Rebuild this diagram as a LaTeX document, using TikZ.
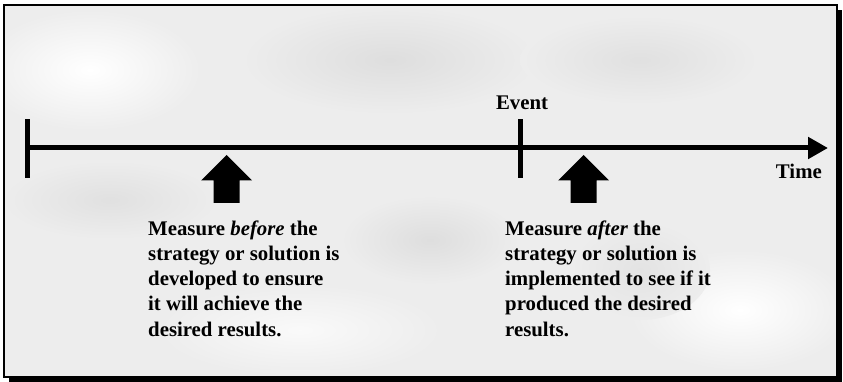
\documentclass[tikz,border=0pt]{standalone}
\usepackage{fontspec}
\setmainfont{Liberation Serif}
\usetikzlibrary{arrows.meta}
\begin{document}
\begin{tikzpicture}[x=1pt,y=-1pt,
  label/.style={font=\fontsize{20.8}{25.2}\selectfont\bfseries, inner sep=0pt, align=left},
  tick/.style={line width=5pt},
  timeline/.style={line width=5pt, -{Triangle[length=20pt,width=21pt]}},
  blockarrow/.style={fill=black},
  cloud/.style={inner color=#1, outer color=gray!14}
]
\useasboundingbox (0,0) rectangle (843,382);

% frame with drop shadow
\fill[black] (9,10) rectangle (842,382);
\fill[gray!14] (4,5) rectangle (837,377);
\begin{scope}
  \clip (4,5) rectangle (837,377);
  \shade[cloud=white] (90,70) ellipse (110 and 60);
  \shade[cloud=gray!26] (390,60) ellipse (150 and 55);
  \shade[cloud=gray!24] (110,200) ellipse (110 and 40);
  \shade[cloud=gray!26] (430,240) ellipse (90 and 45);
  \shade[cloud=white!70!gray!14] (300,330) ellipse (140 and 45);
  \shade[cloud=white] (740,310) ellipse (110 and 60);
  \shade[cloud=gray!24] (640,60) ellipse (120 and 45);
  \shade[cloud=gray!22] (640,270) ellipse (70 and 50);
\end{scope}
\draw[line width=1.5pt] (4,5) rectangle (837,377);

% time axis
\coordinate (start) at (27.5,148);
\coordinate (finish) at (828,148);
\coordinate (eventpt) at (520,148);
\draw[timeline] (start) -- (finish);
\draw[tick] ([yshift=-30pt]start) -- ([yshift=29pt]start);
\draw[tick] ([yshift=-30pt]eventpt) -- ([yshift=29pt]eventpt);

\node[label, anchor=base] (event) at (522,110) {Event};
\node[label, anchor=base east] (time) at (822,179) {Time};

% up arrows marking the two measuring points
\coordinate (beforept) at (226.5,155);
\coordinate (afterpt) at (583.5,155);
\foreach \p in {beforept,afterpt}{
  \fill[blockarrow] (\p) -- ++(25.5,25.5) -- ++(-12.5,0) -- ++(0,22.5)
    -- ++(-26,0) -- ++(0,-22.5) -- ++(-12.5,0) -- cycle;
}

% the base anchor of a multi-line node sits on its last line
\node[label, anchor=base west] (before) at (148,336)
  {Measure \textit{before} the\\strategy or solution is\\developed to ensure\\it will achieve the\\desired results.};
\node[label, anchor=base west] (after) at (505,336)
  {Measure \textit{after} the\\strategy or solution is\\implemented to see if it\\produced the desired\\results.};
\end{tikzpicture}
\end{document}
